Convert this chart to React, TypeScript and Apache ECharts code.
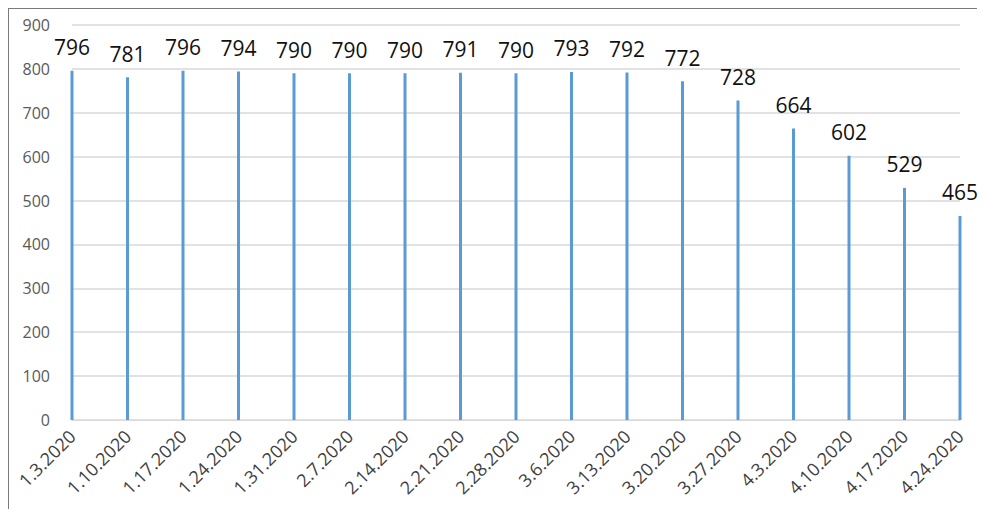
import React, { useEffect, useRef } from "react";
import * as echarts from "echarts";

// Weekly dates and the matching counts
const dates = [
  "1.3.2020", "1.10.2020", "1.17.2020", "1.24.2020", "1.31.2020", "2.7.2020",
  "2.14.2020", "2.21.2020", "2.28.2020", "3.6.2020", "3.13.2020", "3.20.2020",
  "3.27.2020", "4.3.2020", "4.10.2020", "4.17.2020", "4.24.2020",
];
const counts = [796, 781, 796, 794, 790, 790, 790, 791, 790, 793, 792, 772, 728, 664, 602, 529, 465];

const yMin = 0;
const yMax = 900;
const yStep = 100;

export default function App() {
  const ref = useRef<HTMLDivElement>(null);

  useEffect(() => {
    if (!ref.current) return;
    const chart = echarts.init(ref.current, undefined, { renderer: "svg" });
    chart.setOption({
      animation: false,
      backgroundColor: "#ffffff",
      textStyle: { fontFamily: "Open Sans" },
      grid: { left: 63, right: 25, top: 16, bottom: 89, containLabel: false },
      xAxis: {
        type: "category",
        data: dates,
        boundaryGap: false,
        axisLine: { show: true, lineStyle: { color: "#d9d9d9", width: 1 } },
        axisTick: { show: false },
        axisLabel: {
          rotate: 45,
          margin: 13,
          color: "#404040",
          fontSize: 18,
          fontFamily: "Open Sans",
          interval: 0,
        },
        splitLine: { show: false },
      },
      yAxis: {
        type: "value",
        min: yMin,
        max: yMax,
        interval: yStep,
        axisLine: { show: false },
        axisTick: { show: false },
        axisLabel: {
          color: "#595959",
          fontSize: 16,
          fontFamily: "Open Sans",
          margin: 22,
        },
        splitLine: { show: true, lineStyle: { color: "#d9d9d9", width: 1.5 } },
      },
      series: [
        {
          type: "bar",
          data: counts,
          barWidth: 3,
          itemStyle: { color: "#5b9bd5" },
          label: {
            show: true,
            position: "top",
            distance: 13,
            color: "#111111",
            fontSize: 21,
            fontFamily: "Open Sans",
          },
        },
      ],
    });
    return () => chart.dispose();
  }, []);

  return (
    <div
      style={{
        width: 976,
        height: 500,
        borderTop: "1px solid #7a7a7a",
        borderLeft: "1px solid #7a7a7a",
      }}
    >
      <div ref={ref} style={{ width: 976, height: 500 }} />
    </div>
  );
}
